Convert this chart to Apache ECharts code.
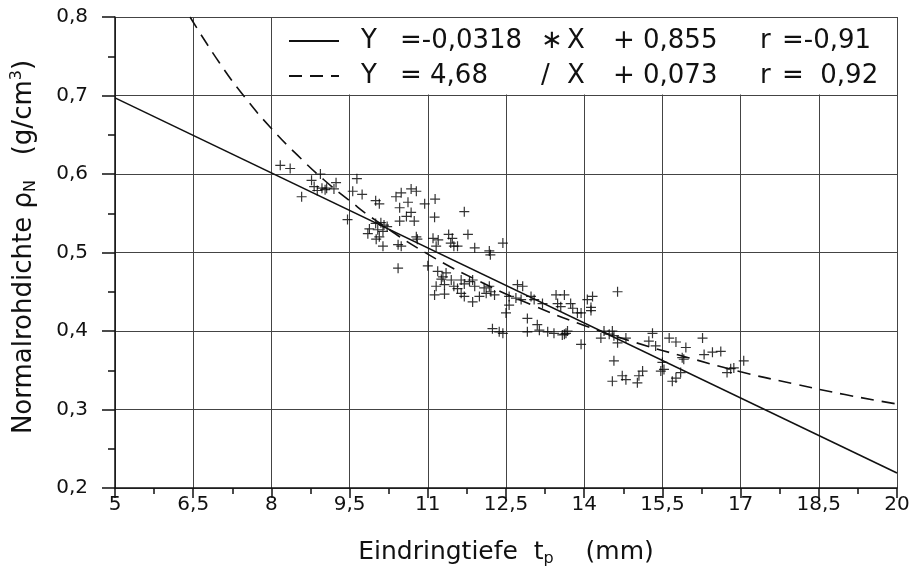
<!DOCTYPE html>
<html>
<head>
<meta charset="utf-8">
<script src="https://cdn.jsdelivr.net/npm/echarts@6/dist/echarts.min.js"></script>
<style>html,body{margin:0;padding:0;background:#fff}#c{width:914px;height:572px}</style>
</head>
<body>
<div id="c"></div>
<script>
// ---- data ----
const xTicks = [5, 6.5, 8, 9.5, 11, 12.5, 14, 15.5, 17, 18.5, 20];
const yTicks = [0.2, 0.3, 0.4, 0.5, 0.6, 0.7, 0.8];

const tp = [8.17,8.36,8.58,8.77,8.82,8.88,8.94,8.97,9.03,9.06,9.20,9.24,9.46,
9.64,9.56,9.74,10.00,10.07,10.39,10.49,10.68,10.78,10.62,10.46,10.94,11.14,10.68,10.59,10.74,10.46,11.13,11.70,
10.00,10.10,10.16,10.22,9.88,9.85,10.04,10.14,10.07,10.01,10.14,10.43,10.49,10.78,10.80,11.10,11.20,11.16,11.40,11.47,11.44,11.50,11.57,11.77,11.90,12.18,12.20,12.44,
10.43,11.00,11.19,11.29,11.35,11.26,11.32,11.16,11.13,11.32,11.45,11.50,11.64,11.57,11.70,11.80,11.86,11.90,11.64,11.70,11.86,11.99,12.12,12.21,12.28,12.18,12.08,12.56,12.56,12.50,12.72,12.82,12.69,12.79,12.98,13.04,13.20,13.46,13.62,13.49,13.55,13.74,13.78,
12.24,12.37,12.44,12.91,12.91,13.10,13.14,13.30,13.42,13.58,13.65,
14.06,14.16,14.13,14.13,14.64,13.87,13.94,13.62,13.68,13.94,14.32,14.38,14.48,14.54,14.57,14.64,14.80,14.57,14.54,14.73,14.80,15.02,15.05,15.12,15.31,15.24,15.37,15.50,15.47,15.53,15.63,15.76,15.95,15.88,15.91,15.85,15.76,15.69,16.27,16.30,16.46,16.62,16.74,16.81,16.87,17.06];
const rho = [0.611,0.607,0.571,0.592,0.584,0.579,0.600,0.582,0.580,0.582,0.581,0.589,0.542,
0.594,0.578,0.574,0.566,0.562,0.571,0.576,0.581,0.578,0.564,0.557,0.562,0.568,0.551,0.546,0.540,0.540,0.545,0.552,
0.537,0.538,0.535,0.533,0.530,0.524,0.529,0.527,0.520,0.517,0.508,0.510,0.508,0.520,0.517,0.518,0.516,0.508,0.523,0.518,0.512,0.508,0.508,0.523,0.506,0.502,0.497,0.512,
0.480,0.483,0.476,0.469,0.474,0.466,0.459,0.457,0.446,0.447,0.465,0.457,0.465,0.454,0.460,0.463,0.465,0.457,0.448,0.444,0.437,0.444,0.448,0.450,0.446,0.457,0.455,0.444,0.433,0.423,0.459,0.457,0.442,0.440,0.444,0.440,0.435,0.446,0.446,0.435,0.431,0.435,0.429,
0.403,0.399,0.397,0.416,0.399,0.408,0.401,0.399,0.397,0.395,0.397,
0.440,0.444,0.430,0.426,0.450,0.423,0.423,0.396,0.400,0.383,0.391,0.400,0.396,0.400,0.394,0.385,0.391,0.362,0.336,0.343,0.338,0.334,0.343,0.349,0.397,0.387,0.381,0.360,0.349,0.351,0.391,0.386,0.379,0.366,0.364,0.347,0.340,0.336,0.391,0.370,0.373,0.374,0.347,0.352,0.353,0.362];

// regression line (solid) read at its ends
const linX = [5, 20];
const linY = [0.697, 0.219];
// hyperbolic fit (dashed)
const hypX = [6.44, 7, 7.5, 8, 8.5, 9, 9.5, 10, 11, 12, 13, 14, 15, 16, 17, 18, 19, 20];
const hypY = [0.800, 0.742, 0.697, 0.658, 0.624, 0.593, 0.566, 0.541, 0.498, 0.463, 0.433, 0.407, 0.385, 0.366, 0.348, 0.333, 0.319, 0.307];

const legendRows = {
  lin: ['Y', '=-0,0318', '\u2217', 'X', '+', '0,855', 'r', '=-0,91'],
  hyp: ['Y', '= 4,68', '/', 'X', '+', '0,073', 'r', '=  0,92']
};

const FONT = 'DejaVu Sans';
const INK = '#111';
const comma = v => String(+v.toFixed(2)).replace('.', ',');

const chart = echarts.init(document.getElementById('c'), null, {renderer: 'canvas'});
const keys = ['y','e','o','x','p','c','r','q'];
const rich = {
  s: {width: 17},
  y: {width: 39}, e: {width: 141}, o: {width: 26}, x: {width: 46},
  p: {width: 30}, c: {width: 117}, r: {width: 22}, q: {width: 115}
};
Object.keys(rich).forEach(k => { rich[k].fontSize = 26; rich[k].fontFamily = FONT; rich[k].color = INK; rich[k].lineHeight = 28; });

chart.setOption({
  animation: false,
  backgroundColor: '#fff',
  textStyle: {fontFamily: FONT, color: INK},
  grid: {left: 115, right: 17, top: 17, bottom: 84},
  xAxis: {
    type: 'value', min: xTicks[0], max: xTicks[xTicks.length - 1], interval: 1.5,
    axisLine: {onZero: false, lineStyle: {color: INK, width: 1.5}},
    axisTick: {length: 10, lineStyle: {color: INK, width: 1.5}},
    minorTick: {show: true, splitNumber: 2, length: 6, lineStyle: {color: INK, width: 1.5}},
    splitLine: {show: true, lineStyle: {color: '#444', width: 1}},
    axisLabel: {margin: 7, fontSize: 20, color: INK, fontFamily: FONT, formatter: comma},
    name: '{a|Eindringtiefe  t}{s|p}{a|    (mm)}',
    nameLocation: 'middle', nameGap: 49,
    nameTextStyle: {rich: {
      a: {fontSize: 25, fontFamily: FONT, color: INK, lineHeight: 30},
      s: {fontSize: 16, fontFamily: FONT, color: INK, lineHeight: 16, verticalAlign: 'bottom', padding: [6, 0, 0, 0]}
    }}
  },
  yAxis: {
    type: 'value', min: yTicks[0], max: yTicks[yTicks.length - 1], interval: 0.1,
    axisLine: {onZero: false, lineStyle: {color: INK, width: 1.5}},
    axisTick: {length: 13, lineStyle: {color: INK, width: 1.5}},
    minorTick: {show: true, splitNumber: 2, length: 7, lineStyle: {color: INK, width: 1.5}},
    splitLine: {show: true, lineStyle: {color: '#444', width: 1}},
    axisLabel: {margin: 27, fontSize: 20, color: INK, fontFamily: FONT, formatter: v => v.toFixed(1).replace('.', ',')}
  },
  legend: {
    data: ['lin', 'hyp'], orient: 'vertical', left: 288, top: 28, padding: 0,
    itemWidth: 50, itemHeight: 14, itemGap: 9, selectedMode: false,
    itemStyle: {opacity: 0},
    formatter: name => '{s| }' + legendRows[name].map((t, i) => '{' + keys[i] + '|' + t + '}').join(''),
    textStyle: {rich: rich}
  },
  graphic: [
    {type: 'rect', z: 1, shape: {x: 279, y: 18, width: 617, height: 76.5}, style: {fill: '#fff'}},
    {type: 'text', z: 5, x: 24, y: 247, rotation: Math.PI / 2,
     style: {text: '{a|Normalrohdichte \u03c1}{s|N}{a|   (g/cm}{t|3}{a|)}', align: 'center', verticalAlign: 'middle',
       rich: {
         a: {fontSize: 26, fontFamily: FONT, fill: INK, lineHeight: 30},
         s: {fontSize: 16, fontFamily: FONT, fill: INK, lineHeight: 16, verticalAlign: 'bottom', padding: [6, 0, 0, 0]},
         t: {fontSize: 16, fontFamily: FONT, fill: INK, lineHeight: 16, verticalAlign: 'top'}
       }}}
  ],
  series: [
    {type: 'scatter', name: 'pts', data: tp.map((v, i) => [v, rho[i]]),
     symbol: 'path://M4.4,0h1.2v4.4h4.4v1.2h-4.4v4.4h-1.2v-4.4h-4.4v-1.2h4.4z', symbolSize: 10,
     itemStyle: {color: '#000'}, z: 3},
    {type: 'line', name: 'lin', data: linX.map((v, i) => [v, linY[i]]), symbol: 'none',
     itemStyle: {color: INK}, lineStyle: {color: INK, width: 1.6, type: 'solid'}, z: 4},
    {type: 'line', name: 'hyp', data: hypX.map((v, i) => [v, hypY[i]]), symbol: 'none', smooth: true,
     itemStyle: {color: INK}, lineStyle: {color: INK, width: 1.6, type: [13, 8]}, z: 4}
  ]
});
</script>
</body>
</html>
